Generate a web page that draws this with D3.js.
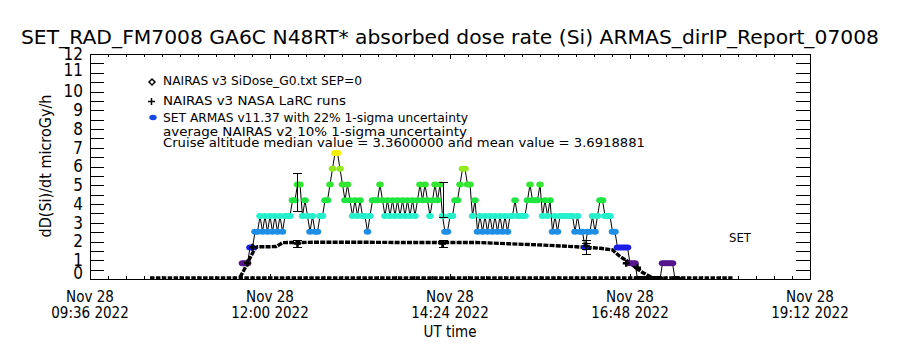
<!DOCTYPE html>
<html>
<head>
<meta charset="utf-8">
<script src="https://cdn.jsdelivr.net/npm/d3@7/dist/d3.min.js"></script>
<style>
  body { margin: 0; background: #fff; }
  text { font-family: 'DejaVu Sans', sans-serif; fill: #000; }
  .cond { font-family: 'DejaVu Sans Condensed', 'DejaVu Sans', sans-serif; font-stretch: condensed; }
</style>
</head>
<body>
<svg id="chart" width="900" height="350"></svg>
<script>
// ARMAS absorbed dose rate, one reading every 2 min starting 11:38 UT (microGy/h)
const armasStart = "11:38"
const armasStepMin = 2
const armasValues = [
  0.84, 0.84, 0.84, 1.68, 1.68, 2.52, 2.52, 3.36, 2.52, 3.36,
  2.52, 3.36, 2.52, 3.36, 2.52, 3.36, 2.52, 3.36, 3.36, 3.36,
  4.2, 4.2, 5.04, 5.04, 3.36, 4.2, 3.36, 2.52, 3.36, 2.52,
  2.52, 3.36, 3.36, 4.2, 4.2, 5.04, 5.88, 6.72, 6.72, 5.88,
  5.04, 4.2, 5.04, 4.2, 3.36, 4.2, 3.36, 4.2, 3.36, 3.36,
  2.52, 3.36, 4.2, 4.2, 4.2, 5.04, 4.2, 3.36, 4.2, 3.36,
  4.2, 3.36, 4.2, 3.36, 4.2, 3.36, 4.2, 3.36, 4.2, 3.36,
  4.2, 5.04, 4.2, 5.04, 4.2, 3.36, 4.2, 5.04, 4.2, 5.04,
  3.36, 2.52, 2.52, 3.36, 3.36, 4.2, 4.2, 5.04, 5.88, 5.88,
  5.04, 5.04, 3.36, 4.2, 2.52, 3.36, 2.52, 3.36, 2.52, 3.36,
  2.52, 3.36, 2.52, 3.36, 2.52, 3.36, 2.52, 3.36, 3.36, 4.2,
  3.36, 3.36, 3.36, 3.36, 4.2, 5.04, 4.2, 4.2, 4.2, 5.04,
  3.36, 4.2, 3.36, 4.2, 2.52, 3.36, 2.52, 3.36, 3.36, 3.36,
  3.36, 3.36, 3.36, 2.52, 3.36, 2.52, 2.52, 1.68, 2.52, 2.52,
  3.36, 2.52, 3.36, 4.2, 4.2, 3.36, 3.36, 3.36, 2.52, 2.52,
  1.68, 1.68, 1.68, 1.68, 1.68, 0.84, 0.84, 0.84, 0, 0,
  0, 0, 0, 0, 0, 0, 0, 0, 0.84, 0.84,
  0.84, 0.84, 0.84, 0, 0
]
// ARMAS readings are quantised, each level has its own colour
const armasLevels = [0, 0.84, 1.68, 2.52, 3.36, 4.2, 5.04, 5.88, 6.72]
const armasColors = ["#000000", "#55168c", "#1c1ce6", "#1e8ee6", "#24f0cc", "#1ee640", "#34e632", "#94e81e", "#f2f000"]

// NAIRAS v3 SiDose_G0 (diamonds)
const sidoseTimes = ["11:36", "11:39", "11:42", "11:45", "11:48", "11:50", "11:58", "12:05", "12:08", "12:10",
  "12:40", "13:10", "13:40", "14:10", "14:45", "15:11", "15:38", "16:05", "16:24", "16:34",
  "16:40", "16:46", "16:52", "16:58", "17:05"]
const sidoseValues = [0.1, 0.45, 0.85, 1.25, 1.62, 1.72, 1.72, 1.73, 1.85, 1.94,
  1.96, 1.96, 1.95, 1.95, 1.95, 1.88, 1.81, 1.72, 1.64, 1.55,
  1.2, 0.95, 0.65, 0.35, 0.1]
// ground part of the NAIRAS file
const floorTimes = ["10:24", "18:10"]
const floorValues = [0.07, 0.07]

// NAIRAS v3 NASA LaRC runs (plus signs)
const larcTimes = ["11:42", "11:46", "12:22", "14:18", "16:13", "16:45", "16:54"]
const larcValues = [0.85, 1.7, 1.89, 1.9, 1.76, 0.84, 0.6]

// error bars: ARMAS 22 %, NAIRAS 10 %
const errTimes = ["12:22", "14:18", "16:13"]
const armasErrMean = [4.64, 4.24, 1.72]
const armasErrHalf = [1.03, 0.93, 0.37]
const nairasErrMean = [1.89, 1.9, 1.76]
const nairasErrHalf = [0.19, 0.19, 0.18]

const xTickLabels = ["09:36", "12:00", "14:24", "16:48", "19:12"]
const yTickLabels = [0, 1, 2, 3, 4, 5, 6, 7, 8, 9, 10, 11, 12]

const legendLines = [
  "NAIRAS v3 SiDose_G0.txt SEP=0",
  "NAIRAS v3 NASA LaRC runs",
  "SET ARMAS v11.37 with 22% 1-sigma uncertainty",
  "average NAIRAS v2 10% 1-sigma uncertainty",
  "Cruise altitude median value = 3.3600000 and mean value = 3.6918881"
]

let margin = {top: 54, right: 90, bottom: 71, left: 90}
let width = 900, height = 350
let innerWidth = width - margin.left - margin.right
let innerHeight = height - margin.top - margin.bottom

let parseTime = d3.timeParse("%Y-%m-%d %H:%M")
let t = s => parseTime("2022-11-28 " + s)

const svg = d3.select("#chart")
const g = svg.append("g").attr("transform", "translate(" + margin.left + "," + margin.top + ")")

let x = d3.scaleTime()
      .domain([t("09:36"), t("19:12")])
      .range([0, innerWidth])
let y = d3.scaleLinear()
      .domain([0, 12])
      .range([innerHeight, 0])
let color = d3.scaleOrdinal().domain(armasLevels).range(armasColors)

let armas = armasValues.map((v, i) => ({t: d3.timeMinute.offset(t(armasStart), i * armasStepMin), v: v}))

g.append("clipPath").attr("id", "clip")
  .append("rect").attr("width", innerWidth).attr("height", innerHeight + 1)
const plot = g.append("g").attr("clip-path", "url(#clip)")

let line = d3.line().x(d => x(d.t)).y(d => y(d.v))

// floor track and SiDose curve, dense diamonds look like a heavy dashed line
plot.append("path")
  .datum(floorTimes.map((s, i) => ({t: t(s), v: floorValues[i]})))
  .attr("d", line).attr("fill", "none").attr("stroke", "#000")
  .attr("stroke-width", 2.8).attr("stroke-dasharray", "4.5 1.4")
plot.append("path")
  .datum(sidoseTimes.map((s, i) => ({t: t(s), v: sidoseValues[i]})))
  .attr("d", line).attr("fill", "none").attr("stroke", "#000")
  .attr("stroke-width", 3.4).attr("stroke-dasharray", "5 1.2")

// ARMAS connecting line then coloured symbols
plot.append("path").datum(armas)
  .attr("d", line).attr("fill", "none").attr("stroke", "#000").attr("stroke-width", 1)
plot.selectAll(".armas")
  .data(armas)
  .enter().append("ellipse")
  .attr("class", "armas")
  .attr("cx", d => x(d.t)).attr("cy", d => y(d.v))
  .attr("rx", 3.8).attr("ry", 2.9)
  .attr("fill", d => color(d.v))

// LaRC plus signs
plot.selectAll(".larc")
  .data(larcTimes.map((s, i) => ({t: t(s), v: larcValues[i]})))
  .enter().append("path")
  .attr("class", "larc")
  .attr("transform", d => "translate(" + x(d.t) + "," + y(d.v) + ")")
  .attr("d", "M-3.5,0H3.5M0,-3.5V3.5")
  .attr("stroke", "#000").attr("stroke-width", 2.5)

// error bars
function errorBars(means, halves) {
  let bars = plot.selectAll(null)
    .data(errTimes.map((s, i) => ({t: t(s), lo: means[i] - halves[i], hi: means[i] + halves[i]})))
    .enter().append("path")
    .attr("d", d => {
      let cx = Math.round(x(d.t)) + 0.5
      let y0 = Math.round(y(d.lo)) + 0.5, y1 = Math.round(y(d.hi)) + 0.5
      return "M" + (cx - 4.5) + "," + y0 + "H" + (cx + 4.5) +
             "M" + cx + "," + y0 + "V" + y1 +
             "M" + (cx - 4.5) + "," + y1 + "H" + (cx + 4.5)
    })
    .attr("fill", "none").attr("stroke", "#000").attr("stroke-width", 1)
  return bars
}
errorBars(armasErrMean, armasErrHalf)
errorBars(nairasErrMean, nairasErrHalf)

// axes: inward ticks on all four sides
let t0 = x.domain()[0]
let minorTicks = d3.range(0, 41).map(k => new Date(+t0 + k * 864000))
let majorTicks = xTickLabels.map(t)
let yTicks = d3.range(0, 12.01, 0.5)

function tickAxis(axis, tx, ty) {
  let a = g.append("g").attr("transform", "translate(" + tx + "," + ty + ")").call(axis)
  a.select(".domain").remove()
  a.selectAll("line").attr("shape-rendering", "crispEdges")
  return a
}
tickAxis(d3.axisBottom(x).tickValues(minorTicks).tickSize(-3).tickFormat(""), 0, innerHeight)
tickAxis(d3.axisBottom(x).tickValues(majorTicks).tickSize(-5).tickFormat(""), 0, innerHeight)
tickAxis(d3.axisTop(x).tickValues(minorTicks).tickSize(-3).tickFormat(""), 0, 0)
tickAxis(d3.axisTop(x).tickValues(majorTicks).tickSize(-5).tickFormat(""), 0, 0)
tickAxis(d3.axisLeft(y).tickValues(yTicks).tickSize(-14).tickFormat(""), 0, 0)
tickAxis(d3.axisRight(y).tickValues(yTicks).tickSize(-14).tickFormat(""), innerWidth, 0)

g.append("rect")
  .attr("x", 0.5).attr("y", 0.5)
  .attr("width", innerWidth).attr("height", innerHeight)
  .attr("fill", "none").attr("stroke", "#000").attr("shape-rendering", "crispEdges")

// y tick labels
let yl = g.append("g")
  .call(d3.axisLeft(y).tickValues(yTickLabels).tickSize(0).tickPadding(7).tickFormat(d3.format("d")))
yl.select(".domain").remove()
yl.selectAll("text")
  .attr("class", "cond")
  .attr("font-size", 17)
  .attr("transform", d => d === 0 ? "translate(0,-6)" : d === 11 ? "translate(0,-3)" : null)

// x tick labels, two lines each
let fmtDay = d3.timeFormat("%b %d"), fmtTime = d3.timeFormat("%H:%M %Y")
let xl = g.selectAll(".xlab")
  .data(majorTicks)
  .enter().append("text")
  .attr("class", "cond")
  .attr("text-anchor", "middle")
  .attr("font-size", 15)
  .attr("x", d => x(d))
xl.append("tspan").attr("x", d => x(d)).attr("y", innerHeight + 23).text(fmtDay)
xl.append("tspan").attr("x", d => x(d)).attr("y", innerHeight + 39).text(fmtTime)

g.append("text")
  .attr("class", "cond")
  .attr("x", innerWidth / 2).attr("y", innerHeight + 58)
  .attr("text-anchor", "middle").attr("font-size", 15)
  .text("UT time")

svg.append("text")
  .attr("class", "cond")
  .attr("transform", "translate(45,166) rotate(-90)")
  .attr("text-anchor", "middle").attr("dominant-baseline", "central")
  .attr("font-size", 16)
  .text("dD(Si)/dt microGy/h")

svg.append("text")
  .attr("x", 450).attr("y", 44)
  .attr("text-anchor", "middle").attr("font-size", 20)
  .attr("textLength", 858).attr("lengthAdjust", "spacingAndGlyphs")
  .text("SET_RAD_FM7008  GA6C N48RT* absorbed dose rate (Si) ARMAS_dirIP_Report_07008")

// legend
let legendBase = [85, 105, 122, 136, 146.5]
let legendLen = [199, 183, 305, 304, 482]
svg.selectAll(".leg")
  .data(legendLines)
  .enter().append("text")
  .attr("class", "cond")
  .attr("x", 163).attr("y", (d, i) => legendBase[i])
  .attr("font-size", 13)
  .attr("textLength", (d, i) => legendLen[i]).attr("lengthAdjust", "spacingAndGlyphs")
  .text(d => d)
svg.append("path").attr("d", "M152,79L155,82L152,85L149,82Z")
  .attr("fill", "#fff").attr("stroke", "#000").attr("stroke-width", 1.5)
svg.append("path").attr("d", "M148,101.5H155M151.5,98V105")
  .attr("stroke", "#000").attr("stroke-width", 1.5)
svg.append("ellipse").attr("cx", 153).attr("cy", 117.5).attr("rx", 3.7).attr("ry", 2.8)
  .attr("fill", "#1448e8")

svg.append("text")
  .attr("class", "cond")
  .attr("x", 740).attr("y", 242).attr("text-anchor", "middle").attr("font-size", 13)
  .text("SET")
</script>
</body>
</html>
